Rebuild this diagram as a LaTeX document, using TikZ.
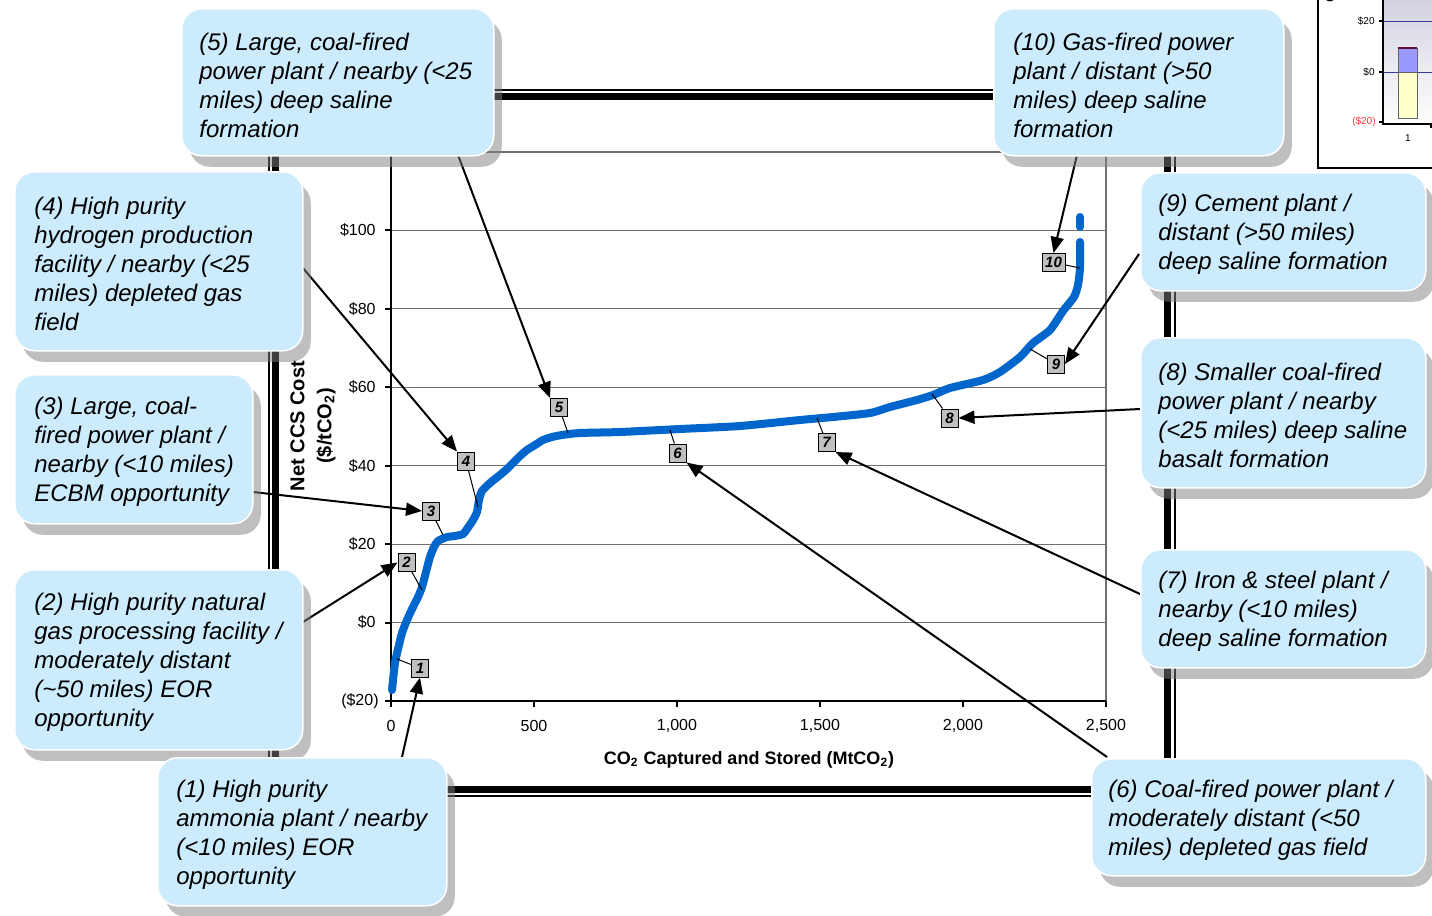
\documentclass[tikz,border=0pt]{standalone}
\usepackage{fontspec}
\setmainfont{Liberation Sans}
\usetikzlibrary{arrows.meta,shadows}
\definecolor{callbg}{HTML}{CCEBFD}
\definecolor{curveblue}{HTML}{0066CC}
\definecolor{gridgray}{HTML}{707070}
\definecolor{numgray}{HTML}{C0C0C0}
\definecolor{insettop}{HTML}{D2D2E2}
\definecolor{insetblue}{HTML}{3A3AA0}
\definecolor{baryellow}{HTML}{FFFFCC}
\definecolor{barblue}{HTML}{9999FF}
\definecolor{barred}{HTML}{5A1030}
\definecolor{insetred}{HTML}{FF3333}
\begin{document}
\begin{tikzpicture}[x=0.5pt,y=-0.5pt,
 box/.style={draw=white, line width=0.75pt, fill=callbg, rounded corners=10pt, anchor=north west, inner sep=0pt,
   general shadow={shadow xshift=4pt, shadow yshift=-5.5pt, fill=gray, opacity=0.5, draw=none}},
 ctext/.style={anchor=west, align=left, inner sep=0pt, font=\itshape\fontsize{12}{14.5}\selectfont},
 nbox/.style={draw=black, line width=0.5pt, fill=numgray, minimum width=8.5pt, minimum height=9pt, inner sep=0pt, font=\bfseries\itshape\fontsize{7.5}{8}\selectfont},
 leader/.style={line width=0.5pt},
 arr/.style={line width=1pt, -{Triangle[length=8pt,width=6.5pt]}},
 gridline/.style={gridgray, line width=0.6pt},
 axisline/.style={black, line width=1pt},
 ytick/.style={anchor=east, font=\fontsize{8}{9}\selectfont, inner sep=0pt},
 xtick/.style={font=\fontsize{8}{9}\selectfont, inner sep=0pt},
 curvestyle/.style={curveblue, line width=4pt, line cap=round, line join=round},
 itick/.style={anchor=east, font=\fontsize{5}{6}\selectfont, inner sep=0pt},
]
\useasboundingbox (0,0) rectangle (1432,916);
\fill[white] (0,0) rectangle (1432,916);

% outer double frame
\draw[line width=3.5pt] (275,96.5) rectangle (1167,789);
\draw[line width=1pt] (268.5,90) rectangle (1175,795.5);

% plot area grid
\foreach \k in {1,...,7} {
  \draw[gridline] (391,{701-78.43*\k}) -- (1106,{701-78.43*\k});
}
\draw[gridline] (1106,152) -- (1106,701);
% axes
\draw[axisline] (391,152) -- (391,707);
\draw[axisline] (385,701) -- (1106,701);
\foreach \k in {1,...,6} {
  \draw[axisline] (385,{701-78.43*\k}) -- (391,{701-78.43*\k});
}
\foreach \k in {1,...,5} {
  \draw[axisline] ({391+143*\k},701) -- ({391+143*\k},707);
}
% tick labels
\node[ytick] (yl0) at (379,701) {(\$20)};
\node[ytick] (yl1) at (376,622.6) {\$0};
\node[ytick] (yl2) at (376,544.1) {\$20};
\node[ytick] (yl3) at (376,465.7) {\$40};
\node[ytick] (yl4) at (376,387.3) {\$60};
\node[ytick] (yl5) at (376,308.9) {\$80};
\node[ytick] (yl6) at (376,230.4) {\$100};
\node[xtick] (xl0) at (391,726) {0};
\node[xtick] (xl1) at (534,726) {500};
\node[xtick] (xl2) at (677,726) {1,000};
\node[xtick] (xl3) at (820,726) {1,500};
\node[xtick] (xl4) at (963,726) {2,000};
\node[xtick] (xl5) at (1106,726) {2,500};
\node[rotate=90, align=center, font=\bfseries\fontsize{10}{13.5}\selectfont] (ytitle) at (313,426) {Net CCS Cost\\(\$/tCO\textsubscript{2})};
\node[font=\bfseries\fontsize{9}{11}\selectfont] (xtitle) at (749,760) {CO\textsubscript{2} Captured and Stored (MtCO\textsubscript{2})};

% supply curve
\draw[curvestyle] plot[smooth, tension=0.4] coordinates {
 (392,690) (395,663) (399,645) (402,633) (407,620) (413,607) (418,597) (422,587)
 (426,572) (430,557) (434,547) (438,541) (447,537) (455,536) (463,534) (467,529)
 (473,520) (477,512) (479,500) (482,491) (490,483) (500,475) (507,469) (513,463)
 (520,456) (527,450) (535,445) (543,440) (552,437) (562,435) (580,433) (620,432)
 (680,429) (740,426) (800,420) (833,417) (870,413) (890,407) (917,400) (933,395)
 (950,388) (983,380) (1000,372) (1020,357) (1033,343) (1050,330) (1063,311)
 (1074,297) (1078,285) (1080,268) (1080,242)};
\draw[curvestyle] (1080,217) -- (1080,227);

% numbered markers
\node[nbox] (n1) at (420,668) {1};
\node[nbox] (n2) at (406.5,562.5) {2};
\node[nbox] (n3) at (431,511) {3};
\node[nbox] (n4) at (466,461) {4};
\node[nbox] (n5) at (559,407.5) {5};
\node[nbox] (n6) at (677.5,453) {6};
\node[nbox] (n7) at (826.5,442.5) {7};
\node[nbox] (n8) at (949.5,418) {8};
\node[nbox] (n9) at (1056,364) {9};
\node[nbox, minimum width=11.5pt] (n10) at (1053.5,262.5) {10};

\coordinate (p1) at (397,659);
\coordinate (p2) at (422,590);
\coordinate (p3) at (443,535);
\coordinate (p4) at (478,507);
\coordinate (p5) at (568,433);
\coordinate (p6) at (670,430);
\coordinate (p7) at (817,418);
\coordinate (p8) at (932,394);
\coordinate (p9) at (1030,349);
\coordinate (p10) at (1080,268);
\foreach \i in {1,...,10} { \draw[leader] (n\i) -- (p\i); }

% arrows from callouts
\coordinate (a1) at (402,757);
\coordinate (a2) at (303,622);
\coordinate (a3) at (253,492);
\coordinate (a4) at (303,268);
\coordinate (a5) at (458,155);
\coordinate (a6) at (1107,757);
\coordinate (a7) at (1140,594);
\coordinate (a8) at (1140,409);
\coordinate (a9) at (1139,254);
\coordinate (a10) at (1077,155);
\draw[arr] (a1) -- (n1.south);
\draw[arr] (a2) -- (n2.west);
\draw[arr] (a3) -- (n3.west);
\draw[arr] (a4) -- (n4.north west);
\draw[arr] (a5) -- (n5.north west);
\draw[arr] (a6) -- (n6.south east);
\draw[arr] (a7) -- (n7.south east);
\draw[arr] (a8) -- (n8.east);
\draw[arr] (a9) -- (n9.east);
\draw[arr] (a10) -- (n10.north);

% callout boxes
\node[box, minimum width=156pt, minimum height=73.5pt] (c5) at (181,8) {};
\node[ctext] (t5) at ([xshift=9pt,yshift=-1.5pt]c5.west) {(5) Large, coal-fired\\power plant / nearby (<25\\miles) deep saline\\formation};
\node[box, minimum width=145pt, minimum height=73.5pt] (c10) at (993,8) {};
\node[ctext] (t10) at ([xshift=10pt,yshift=-1.5pt]c10.west) {(10) Gas-fired power\\plant / distant (>50\\miles) deep saline\\formation};
\node[box, minimum width=144pt, minimum height=89.5pt] (c4) at (14,171) {};
\node[ctext] (t4) at ([xshift=10pt,yshift=-1.5pt]c4.west) {(4) High purity\\hydrogen production\\facility / nearby (<25\\miles) depleted gas\\field};
\node[box, minimum width=119pt, minimum height=74.5pt] (c3) at (14,374) {};
\node[ctext] (t3) at ([xshift=10pt,yshift=-1.5pt]c3.west) {(3) Large, coal-\\fired power plant /\\nearby (<10 miles)\\ECBM opportunity};
\node[box, minimum width=144pt, minimum height=90pt] (c2) at (14,569) {};
\node[ctext] (t2) at ([xshift=10pt,yshift=-1.5pt]c2.west) {(2) High purity natural\\gas processing facility /\\moderately distant\\(\textasciitilde50 miles) EOR\\opportunity};
\node[box, minimum width=144.5pt, minimum height=74pt] (c1) at (157,757) {};
\node[ctext] (t1) at ([xshift=9.5pt,yshift=-1.5pt]c1.west) {(1) High purity\\ammonia plant / nearby\\(<10 miles) EOR\\opportunity};
\node[box, minimum width=142.5pt, minimum height=59pt] (c9) at (1140,172) {};
\node[ctext] (t9) at ([xshift=9pt,yshift=-1.5pt]c9.west) {(9) Cement plant /\\distant (>50 miles)\\deep saline formation};
\node[box, minimum width=142.5pt, minimum height=75pt] (c8) at (1140,337) {};
\node[ctext] (t8) at ([xshift=9pt,yshift=-1.5pt]c8.west) {(8) Smaller coal-fired\\power plant / nearby\\(<25 miles) deep saline\\basalt formation};
\node[box, minimum width=142.5pt, minimum height=59pt] (c7) at (1140,549) {};
\node[ctext] (t7) at ([xshift=9pt,yshift=-1.5pt]c7.west) {(7) Iron \& steel plant /\\nearby (<10 miles)\\deep saline formation};
\node[box, minimum width=167pt, minimum height=58.5pt] (c6) at (1091,758) {};
\node[ctext] (t6) at ([xshift=8.5pt,yshift=-1.5pt]c6.west) {(6) Coal-fired power plant /\\moderately distant (<50\\miles) depleted gas field};

% inset chart (top right, cut off)
\fill[white] (1318,0) rectangle (1432,168);
\shade[top color=insettop, bottom color=white] (1383,0) rectangle (1432,124);
\draw[insetblue, line width=0.5pt] (1383,21) -- (1432,21);
\draw[insetblue, line width=0.5pt] (1383,72) -- (1432,72);
\filldraw[fill=baryellow, draw=black!60, line width=0.5pt] (1398,72) rectangle (1417,118);
\filldraw[fill=barblue, draw=black!60, line width=0.5pt] (1398,48.5) rectangle (1417,72);
\draw[barred, line width=1pt] (1398,48) -- (1417,48);
\draw[black, line width=0.8pt] (1383,0) -- (1383,124) -- (1432,124);
\draw[black, line width=0.8pt] (1379,21) -- (1383,21);
\draw[black, line width=0.8pt] (1379,72) -- (1383,72);
\draw[black, line width=0.8pt] (1379,122) -- (1383,122);
\draw[black, line width=0.8pt] (1431,124) -- (1431,128);
\node[itick] (il1) at (1375,21) {\$20};
\node[itick] (il2) at (1375,72) {\$0};
\node[itick, text=insetred] (il3) at (1376,122) {(\$20)};
\node[font=\fontsize{5}{6}\selectfont, inner sep=0pt] (il4) at (1408,138) {1};
\begin{scope}
\clip (1318,0) rectangle (1432,168);
\node[rotate=90, font=\fontsize{7}{8}\selectfont, inner sep=0pt] (ititle) at (1330,-3) {C};
\end{scope}
\draw[black, line width=1pt] (1318,0) -- (1318,168) -- (1432,168);
\end{tikzpicture}
\end{document}
